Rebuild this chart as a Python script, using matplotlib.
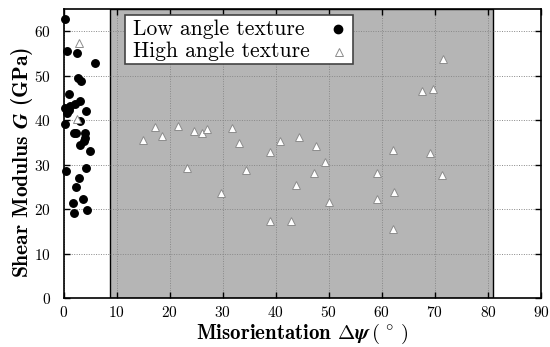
import matplotlib
matplotlib.use("Agg")
import matplotlib.pyplot as plt
from matplotlib.patches import Rectangle

plt.rcParams['font.family'] = 'serif'
plt.rcParams['font.serif'] = ['cmr10', 'DejaVu Serif']
plt.rcParams['mathtext.fontset'] = 'cm'
plt.rcParams['axes.formatter.use_mathtext'] = True

# Low angle texture (black dots)
low_x = [0.25, 0.7, 2.5, 6.0, 2.7, 3.3, 1.1, 3.2, 2.2, 1.3, 0.25, 1.0, 0.7, 4.3,
         3.2, 0.25, 1.9, 2.4, 4.1, 4.0, 3.8, 3.2, 5.0, 4.2, 0.56, 2.9, 2.4, 3.6,
         1.7, 4.5, 1.9]
low_y = [62.8, 55.5, 55.1, 52.9, 49.4, 48.7, 45.9, 44.3, 43.7, 43.2, 42.7, 42.2, 41.7, 42.0,
         39.8, 39.2, 37.2, 37.2, 37.1, 35.9, 35.3, 34.4, 33.0, 29.3, 28.5, 27.0, 25.0, 22.3,
         21.4, 19.9, 19.2]

# High angle texture (open triangles)
high_x = [3.0, 2.5, 17.2, 15.0, 18.6, 21.6, 24.6, 26.1, 27.1, 31.8, 33.1, 38.9, 40.8,
          44.3, 47.6, 49.3, 23.3, 34.4, 47.3, 43.9, 29.6, 38.9, 42.9, 50.0, 71.5,
          67.5, 69.7, 62.1, 69.0, 59.1, 71.3, 62.3, 59.1, 62.1]
high_y = [57.3, 40.2, 38.5, 35.5, 36.5, 38.7, 37.6, 37.1, 38.0, 38.3, 34.9, 32.9, 35.4,
          36.2, 34.2, 30.6, 29.3, 28.8, 28.0, 25.5, 23.6, 17.3, 17.3, 21.5, 53.8,
          46.6, 47.0, 33.3, 32.7, 28.0, 27.7, 23.8, 22.3, 15.5]

shade_range = [8.8, 81.0]
x_ticks = [0, 10, 20, 30, 40, 50, 60, 70, 80, 90]
y_ticks = [0, 10, 20, 30, 40, 50, 60]
legend_labels = ['Low angle texture', 'High angle texture']

fig = plt.figure(figsize=(5.5, 3.47), dpi=100)
ax = fig.add_axes([0.1155, 0.1412, 0.868, 0.833])

ax.axvspan(shade_range[0], shade_range[1], facecolor='#b5b5b5', edgecolor='black',
           linewidth=1.0, zorder=0.2)
ax.set_axisbelow(True)
ax.grid(True, linestyle=(0, (1, 1.5)), color='#888888', linewidth=0.7)

tri_style = dict(marker='^', markerfacecolor='white', markeredgecolor='#8c8c8c',
                 markeredgewidth=0.7, markersize=5.8, linestyle='none')
ax.plot(low_x, low_y, 'o', color='black', markersize=5.4, linestyle='none', zorder=3,
        clip_on=False)
ax.plot(high_x, high_y, zorder=3, clip_on=False, **tri_style)

ax.set_xlim(0, 90)
ax.set_ylim(0, 65)
ax.set_xticks(x_ticks)
ax.set_yticks(y_ticks)
ax.tick_params(direction='in', top=True, right=True, labelsize=11, length=4, width=1)
ax.tick_params(axis='y', pad=9)
ax.tick_params(axis='x', pad=5)
for s in ax.spines.values():
    s.set_linewidth(1.2)

ax.set_xlabel(r'Misorientation $\mathbf{\Delta}\boldsymbol{\psi}\,(\,^\circ\,)$',
              fontsize=15, fontfamily='cmb10')
ax.set_ylabel(r'Shear Modulus $\boldsymbol{G}$ (GPa)', fontsize=15.5, fontfamily='cmb10')
ax.xaxis.set_label_coords(0.5, -0.083)
ax.yaxis.set_label_coords(-0.060, 0.47)

# legend box (text left, markers right)
ax.add_patch(Rectangle((0.129, 0.810), 0.478, 0.169, transform=ax.transAxes,
                       facecolor='white', edgecolor='#444444', linewidth=1.2,
                       zorder=5))
ax.text(0.146, 0.910, legend_labels[0], transform=ax.transAxes, fontsize=15.5,
        va='baseline', ha='left', zorder=6)
ax.text(0.146, 0.834, legend_labels[1], transform=ax.transAxes, fontsize=15.5,
        va='baseline', ha='left', zorder=6)
ax.plot([0.575], [0.930], 'o', color='black', markersize=6, transform=ax.transAxes,
        zorder=6, clip_on=False)
ax.plot([0.578], [0.851], transform=ax.transAxes, zorder=6, clip_on=False, **tri_style)

fig.savefig('out.png', dpi=100)
